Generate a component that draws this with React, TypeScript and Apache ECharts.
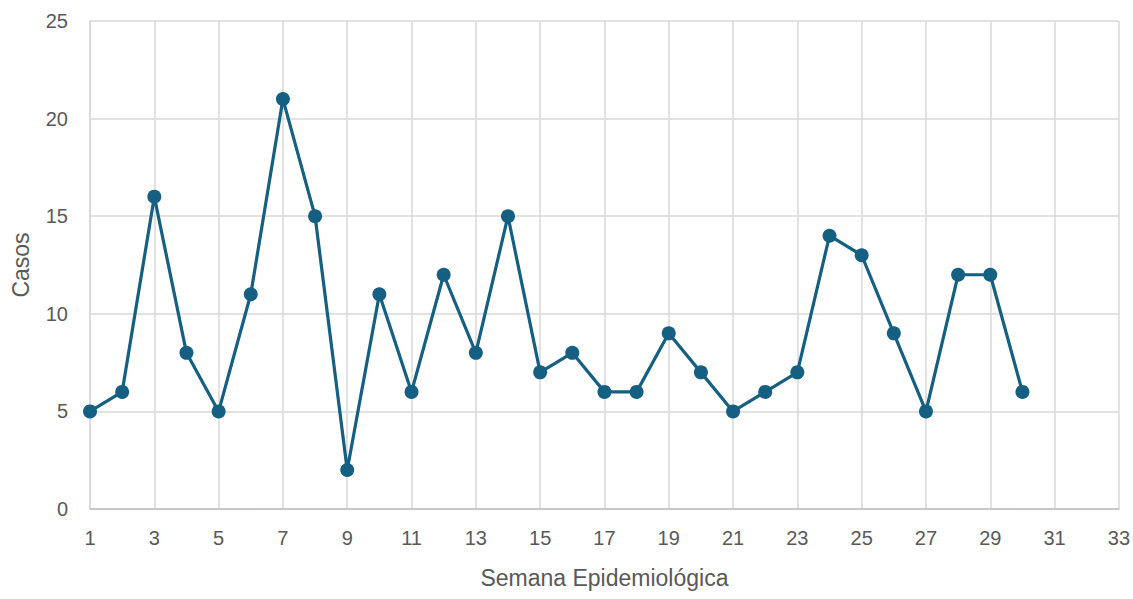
import React, { useEffect, useRef } from "react";
import * as echarts from "echarts";

const semanas = [1,2,3,4,5,6,7,8,9,10,11,12,13,14,15,16,17,18,19,20,21,22,23,24,25,26,27,28,29,30];
const casos = [5,6,16,8,5,11,21,15,2,11,6,12,8,15,7,8,6,6,9,7,5,6,7,14,13,9,5,12,12,6];

export default function App() {
  const ref = useRef<HTMLDivElement>(null);
  useEffect(() => {
    const chart = echarts.init(ref.current!, null, { renderer: "svg" });
    const font = "Liberation Sans, Arial, sans-serif";
    chart.setOption({
      animation: false,
      grid: { left: 90, right: 13, top: 21, bottom: 90, containLabel: false },
      xAxis: {
        type: "value",
        min: 1,
        max: 33,
        interval: 2,
        name: "Semana Epidemiológica",
        nameLocation: "middle",
        nameGap: 57,
        nameTextStyle: { color: "#595959", fontSize: 23, fontFamily: font },
        axisLine: { show: true, lineStyle: { color: "#bfbfbf", width: 1.5 } },
        axisTick: { show: false },
        axisLabel: { color: "#595959", fontSize: 20, fontFamily: font, margin: 19 },
        splitLine: { show: true, lineStyle: { color: "#d9d9d9", width: 1.5 } },
      },
      yAxis: {
        type: "value",
        min: 0,
        max: 25,
        interval: 5,
        name: "Casos",
        nameLocation: "middle",
        nameGap: 58,
        nameTextStyle: { color: "#595959", fontSize: 23, fontFamily: font },
        axisLine: { show: true, lineStyle: { color: "#d9d9d9", width: 1.5 } },
        axisTick: { show: false },
        axisLabel: { color: "#595959", fontSize: 20, fontFamily: font, margin: 22 },
        splitLine: { show: true, lineStyle: { color: "#d9d9d9", width: 1.5 } },
      },
      series: [
        {
          type: "line",
          data: semanas.map((s, i) => [s, casos[i]]),
          lineStyle: { color: "#156082", width: 3.2 },
          itemStyle: { color: "#156082" },
          symbol: "circle",
          symbolSize: 14,
          showAllSymbol: true,
        },
      ],
    });
    return () => chart.dispose();
  }, []);
  return <div ref={ref} style={{ width: 1133, height: 599, position: "absolute", left: 0, top: 0 }} />;
}
